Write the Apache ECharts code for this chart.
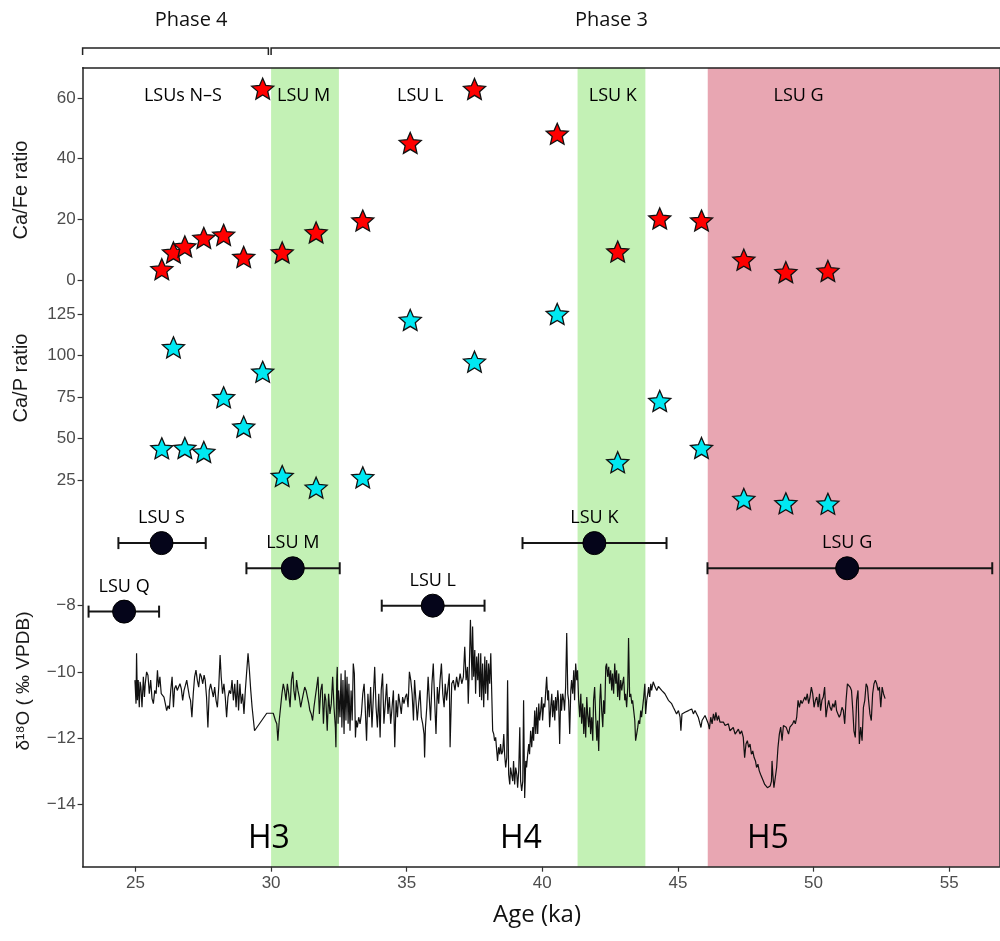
<!DOCTYPE html>
<html>
<head>
<meta charset="utf-8">
<script src="https://cdn.jsdelivr.net/npm/echarts@6/dist/echarts.min.js"></script>
<style>
  html, body { margin: 0; padding: 0; background: #fff; }
  #chart { width: 1000px; height: 941px; }
</style>
</head>
<body>
<div id="chart"></div>
<script>
// ---- Data -----------------------------------------------------------------
// Sample ages (ka) shared by the Ca/Fe and Ca/P measurements
const sampleAge = [25.97, 26.4, 26.82, 27.52, 28.25, 28.99, 29.69, 30.41, 31.66, 33.38,
                   35.13, 37.5, 40.55, 42.78, 44.33, 45.87, 47.43, 48.98, 50.53];
const caFe = [3.6, 9.1, 11.1, 13.9, 14.9, 7.6, 63.1, 9.1, 15.7, 19.6,
              45.2, 63.0, 48.2, 9.4, 20.3, 19.6, 6.7, 2.6, 3.0];
const caP = [44.1, 104.9, 44.3, 41.9, 74.8, 57.1, 90.2, 27.4, 20.4, 26.6,
             121.4, 96.3, 125.0, 35.7, 72.6, 44.3, 13.6, 11.0, 10.7];

// Dated lithostratigraphic units: central age, age range, plotting level
const lsuName = ['LSU Q', 'LSU S', 'LSU M', 'LSU L', 'LSU K', 'LSU G'];
const lsuAge = [24.58, 25.96, 30.8, 35.96, 41.92, 51.24];
const lsuAgeMin = [23.27, 24.37, 29.09, 34.08, 39.27, 46.09];
const lsuAgeMax = [25.87, 27.59, 32.53, 37.87, 44.58, 56.59];
const lsuLevel = [-8.18, -6.11, -6.87, -8.0, -6.11, -6.87];

// Unit names written across the top of the plot
const unitLabel = ['LSUs N\u2013S', 'LSU M', 'LSU L', 'LSU K', 'LSU G'];
const unitLabelAge = [26.75, 31.2, 35.5, 42.6, 49.45];

// Heinrich events
const heinrichName = ['H3', 'H4', 'H5'];
const heinrichAge = [29.92, 39.21, 48.32];

// Shaded intervals (group 0 = green, group 1 = red)
const bandFrom = [30.0, 41.3, 46.1];
const bandTo = [32.5, 43.8, 56.85];
const bandGroup = [0, 0, 1];

// Occupation phases
const phaseName = ['Phase 4', 'Phase 3'];
const phaseFrom = [23.05, 30.0];
const phaseTo = [29.9, 57.5];
const phaseLabelAge = [27.05, 42.55];

// Tick values
const xTicks = [25, 30, 35, 40, 45, 50, 55];
const caFeTicks = [0, 20, 40, 60];
const caPTicks = [25, 50, 75, 100, 125];
const d18oTicks = [-14, -12, -10, -8];

// Speleothem oxygen isotope record [age ka, δ18O ‰ VPDB]
const d18oRecord = [
  [24.98,-10.25],[25.02,-10.96],[25.04,-9.44],[25.07,-10.86],[25.10,-10.25],[25.14,-11.07],[25.17,-10.30],[25.20,-10.46],
  [25.24,-11.07],[25.29,-10.15],[25.33,-10.76],[25.36,-10.36],[25.41,-10.00],[25.46,-10.10],[25.51,-10.66],[25.56,-10.25],
  [25.61,-10.81],[25.66,-10.96],[25.71,-10.56],[25.76,-10.66],[25.81,-9.95],[25.85,-10.46],[25.90,-10.15],[25.95,-10.66],
  [26.00,-10.61],[26.05,-10.76],[26.10,-10.96],[26.15,-11.17],[26.20,-11.02],[26.25,-11.12],[26.30,-10.56],[26.35,-10.15],
  [26.40,-11.07],[26.44,-10.51],[26.49,-10.41],[26.54,-10.56],[26.59,-10.46],[26.64,-10.36],[26.69,-10.51],[26.74,-10.86],
  [26.79,-10.56],[26.84,-10.41],[26.89,-10.25],[26.94,-10.51],[26.99,-10.76],[27.03,-10.86],[27.08,-11.37],[27.13,-10.66],
  [27.18,-10.15],[27.23,-9.95],[27.28,-10.25],[27.33,-10.46],[27.38,-10.05],[27.43,-10.15],[27.48,-10.36],[27.53,-10.10],
  [27.57,-10.25],[27.62,-10.76],[27.67,-11.68],[27.72,-10.56],[27.77,-10.36],[27.82,-10.56],[27.87,-10.76],[27.92,-10.46],
  [27.97,-10.86],[28.02,-11.07],[28.07,-10.46],[28.12,-9.49],[28.16,-10.15],[28.21,-10.66],[28.26,-10.36],[28.31,-10.76],
  [28.36,-11.37],[28.41,-10.76],[28.46,-10.56],[28.51,-10.66],[28.56,-10.25],[28.61,-10.86],[28.66,-10.36],[28.71,-11.07],
  [28.76,-10.25],[28.80,-11.17],[28.85,-10.36],[28.90,-10.96],[28.95,-10.66],[29.00,-11.27],[29.05,-10.56],[29.10,-10.61],
  [29.15,-9.44],[29.20,-9.95],[29.25,-10.56],[29.30,-11.07],[29.35,-11.47],[29.39,-11.78],[29.84,-11.25],[30.08,-11.25],
  [30.16,-11.47],[30.21,-11.57],[30.25,-12.08],[30.30,-11.47],[30.35,-11.07],[30.40,-10.66],[30.45,-10.36],[30.50,-10.56],
  [30.55,-10.86],[30.60,-10.36],[30.65,-10.66],[30.70,-11.07],[30.75,-10.25],[30.80,-10.00],[30.84,-10.56],[30.89,-10.86],
  [30.94,-10.25],[30.99,-10.56],[31.04,-10.76],[31.09,-11.07],[31.14,-10.86],[31.19,-10.66],[31.24,-10.46],[31.29,-10.56],
  [31.34,-10.76],[31.39,-10.96],[31.43,-11.17],[31.48,-11.27],[31.53,-11.47],[31.58,-11.07],[31.63,-10.76],[31.68,-10.46],
  [31.73,-10.15],[31.78,-11.27],[31.83,-10.56],[31.88,-10.36],[31.93,-11.57],[31.98,-10.66],[32.02,-10.86],[32.07,-11.78],
  [32.12,-10.66],[32.17,-11.27],[32.22,-10.96],[32.27,-10.15],[32.32,-11.07],[32.37,-11.68],[32.39,-12.28],[32.42,-10.25],
  [32.44,-9.85],[32.47,-11.57],[32.49,-10.56],[32.54,-11.37],[32.58,-10.05],[32.61,-11.68],[32.65,-10.25],[32.69,-11.88],
  [32.73,-9.95],[32.76,-11.47],[32.80,-10.15],[32.84,-11.57],[32.87,-10.36],[32.91,-11.78],[32.95,-10.56],[32.99,-11.47],
  [33.03,-9.75],[33.07,-10.05],[33.11,-11.98],[33.14,-11.47],[33.18,-11.68],[33.23,-11.37],[33.28,-11.57],[33.33,-11.27],
  [33.38,-10.66],[33.43,-10.36],[33.47,-11.07],[33.52,-12.08],[33.57,-10.66],[33.62,-11.37],[33.67,-10.46],[33.72,-11.68],
  [33.77,-10.76],[33.82,-9.85],[33.87,-11.07],[33.92,-11.68],[33.97,-10.66],[34.02,-11.98],[34.06,-10.56],[34.11,-10.05],
  [34.16,-11.57],[34.21,-10.96],[34.26,-10.36],[34.31,-11.27],[34.36,-10.76],[34.41,-11.57],[34.46,-11.07],[34.51,-10.56],
  [34.56,-12.28],[34.61,-10.86],[34.66,-11.37],[34.70,-10.66],[34.75,-10.96],[34.80,-11.27],[34.85,-10.76],[34.90,-10.96],
  [34.95,-10.76],[35.00,-10.66],[35.05,-11.07],[35.10,-10.00],[35.15,-10.25],[35.20,-10.66],[35.25,-11.47],[35.29,-10.25],
  [35.34,-10.86],[35.39,-11.47],[35.44,-10.96],[35.49,-10.56],[35.54,-11.37],[35.59,-11.57],[35.64,-11.88],[35.66,-12.59],
  [35.69,-11.68],[35.74,-11.07],[35.79,-10.15],[35.83,-10.76],[35.88,-11.47],[35.93,-10.36],[35.98,-9.75],[36.03,-10.86],
  [36.08,-11.88],[36.13,-10.46],[36.18,-10.96],[36.23,-10.25],[36.28,-9.75],[36.33,-10.66],[36.38,-11.07],[36.42,-10.36],
  [36.47,-10.86],[36.52,-10.46],[36.57,-10.05],[36.60,-12.28],[36.66,-10.36],[36.72,-10.25],[36.78,-10.56],[36.84,-10.15],
  [36.90,-10.46],[36.97,-10.05],[37.03,-10.36],[37.09,-10.15],[37.14,-9.24],[37.19,-10.25],[37.24,-9.85],[37.27,-10.96],
  [37.31,-9.85],[37.35,-8.43],[37.37,-8.38],[37.41,-10.25],[37.43,-8.63],[37.47,-10.15],[37.51,-9.34],[37.54,-10.66],
  [37.58,-9.54],[37.62,-10.25],[37.65,-9.44],[37.69,-10.76],[37.73,-9.44],[37.76,-10.86],[37.80,-9.75],[37.84,-11.07],
  [37.88,-9.54],[37.91,-10.66],[37.95,-9.64],[37.99,-10.86],[38.02,-9.75],[38.06,-10.36],[38.10,-9.44],[38.13,-10.46],
  [38.17,-11.78],[38.21,-11.88],[38.24,-12.08],[38.28,-11.98],[38.32,-12.39],[38.35,-12.69],[38.39,-12.28],[38.43,-12.49],
  [38.46,-12.18],[38.50,-12.49],[38.54,-12.39],[38.58,-11.88],[38.61,-12.49],[38.65,-12.89],[38.69,-12.59],[38.72,-10.25],
  [38.76,-13.10],[38.80,-13.40],[38.83,-12.89],[38.87,-13.10],[38.91,-13.30],[38.94,-12.69],[38.98,-13.40],[39.02,-12.89],
  [39.06,-13.10],[39.09,-13.50],[39.13,-12.99],[39.17,-11.67],[39.20,-13.30],[39.24,-13.60],[39.28,-13.30],[39.31,-10.86],
  [39.35,-13.81],[39.39,-12.69],[39.42,-12.89],[39.46,-12.49],[39.50,-12.18],[39.53,-12.49],[39.57,-11.78],[39.61,-12.28],
  [39.65,-11.67],[39.68,-12.08],[39.72,-11.17],[39.76,-11.88],[39.79,-11.07],[39.83,-11.88],[39.87,-10.96],[39.90,-11.47],
  [39.94,-11.17],[39.98,-10.76],[40.01,-11.47],[40.05,-10.96],[40.09,-11.07],[40.12,-10.66],[40.16,-10.15],[40.20,-10.86],
  [40.23,-10.56],[40.27,-11.67],[40.31,-11.07],[40.35,-10.66],[40.38,-11.37],[40.42,-10.86],[40.46,-11.47],[40.49,-10.76],
  [40.53,-11.17],[40.57,-10.56],[40.60,-10.86],[40.64,-12.18],[40.68,-10.66],[40.71,-11.17],[40.75,-10.66],[40.79,-10.86],
  [40.82,-11.17],[40.86,-10.46],[40.90,-8.83],[40.94,-10.66],[40.97,-10.86],[41.01,-11.88],[41.05,-10.56],[41.08,-10.25],
  [41.12,-10.66],[41.16,-9.95],[41.19,-10.86],[41.23,-9.75],[41.27,-10.25],[41.30,-9.95],[41.34,-10.86],[41.38,-11.37],
  [41.42,-10.66],[41.45,-11.57],[41.49,-10.96],[41.53,-11.88],[41.56,-11.07],[41.60,-11.98],[41.64,-10.76],[41.67,-11.27],
  [41.71,-11.67],[41.75,-11.07],[41.78,-11.88],[41.82,-11.37],[41.86,-12.08],[41.89,-10.86],[41.93,-10.46],[41.97,-11.37],
  [42.01,-12.08],[42.04,-11.47],[42.08,-12.39],[42.12,-10.86],[42.15,-10.36],[42.19,-11.17],[42.23,-11.67],[42.26,-10.86],
  [42.30,-11.27],[42.34,-9.85],[42.37,-9.75],[42.41,-10.15],[42.45,-9.85],[42.48,-10.36],[42.52,-9.95],[42.56,-10.56],
  [42.59,-10.05],[42.63,-10.66],[42.67,-9.75],[42.71,-10.36],[42.74,-9.95],[42.78,-10.76],[42.82,-10.05],[42.85,-10.86],
  [42.89,-10.25],[42.93,-10.56],[42.96,-10.36],[43.00,-10.15],[43.04,-10.86],[43.07,-10.66],[43.11,-11.07],[43.15,-10.46],
  [43.18,-8.98],[43.22,-10.76],[43.26,-10.66],[43.30,-10.96],[43.33,-10.86],[43.37,-11.17],[43.41,-11.47],[43.44,-12.08],
  [43.48,-11.88],[43.52,-11.67],[43.55,-11.47],[43.59,-11.57],[43.63,-11.17],[43.66,-11.37],[43.70,-11.07],[43.74,-10.76],
  [43.78,-10.36],[43.81,-11.27],[43.85,-10.86],[43.89,-10.66],[43.92,-10.46],[43.96,-10.76],[44.00,-10.36],[44.03,-10.56],
  [44.09,-10.30],[44.16,-10.46],[44.22,-10.56],[44.28,-10.44],[44.34,-10.41],[44.40,-10.56],[44.46,-10.51],[44.52,-10.66],
  [44.59,-10.71],[44.65,-10.86],[44.71,-10.81],[44.77,-10.96],[44.83,-11.07],[44.89,-11.17],[44.95,-11.27],[45.02,-11.17],
  [45.08,-11.37],[45.11,-11.78],[45.15,-11.27],[45.20,-11.32],[45.26,-11.22],[45.32,-11.27],[45.39,-11.17],[45.45,-11.22],
  [45.51,-11.12],[45.57,-11.27],[45.63,-11.17],[45.69,-11.22],[45.75,-11.37],[45.81,-11.32],[45.85,-11.68],[45.89,-11.47],
  [45.94,-11.52],[46.00,-11.32],[46.06,-11.27],[46.12,-11.57],[46.16,-11.73],[46.21,-11.37],[46.26,-11.57],[46.31,-11.27],
  [46.36,-11.47],[46.40,-11.22],[46.45,-11.47],[46.50,-11.32],[46.55,-11.52],[46.61,-11.47],[46.68,-11.52],[46.74,-11.62],
  [46.80,-11.68],[46.86,-11.57],[46.92,-11.78],[46.98,-11.73],[47.04,-11.68],[47.11,-11.88],[47.17,-11.83],[47.23,-11.73],
  [47.29,-11.88],[47.35,-11.78],[47.41,-11.98],[47.46,-12.59],[47.51,-12.18],[47.56,-12.08],[47.61,-12.28],[47.66,-12.18],
  [47.71,-12.49],[47.76,-12.39],[47.81,-12.59],[47.86,-12.69],[47.90,-12.89],[47.95,-12.79],[48.00,-12.99],[48.05,-13.10],
  [48.10,-13.20],[48.15,-13.30],[48.20,-13.40],[48.25,-13.45],[48.30,-13.50],[48.35,-13.50],[48.40,-13.45],[48.45,-13.30],
  [48.47,-12.69],[48.50,-13.10],[48.54,-13.50],[48.59,-13.45],[48.64,-12.89],[48.69,-12.28],[48.74,-11.88],[48.79,-11.67],
  [48.84,-12.08],[48.89,-11.62],[48.94,-11.57],[48.99,-11.67],[49.04,-11.62],[49.08,-11.88],[49.13,-11.67],[49.18,-11.73],
  [49.23,-11.57],[49.28,-11.47],[49.33,-11.57],[49.38,-11.37],[49.43,-10.86],[49.48,-11.07],[49.53,-10.86],[49.58,-10.96],
  [49.63,-10.91],[49.68,-10.76],[49.72,-10.86],[49.77,-10.66],[49.82,-10.96],[49.87,-10.76],[49.92,-10.46],[49.97,-10.66],
  [50.02,-11.07],[50.07,-10.86],[50.12,-10.76],[50.17,-11.07],[50.22,-10.66],[50.26,-11.17],[50.31,-10.86],[50.36,-10.76],
  [50.41,-10.46],[50.46,-11.37],[50.51,-11.07],[50.56,-10.86],[50.61,-11.07],[50.66,-11.17],[50.71,-10.96],[50.76,-11.07],
  [50.81,-10.86],[50.85,-11.17],[50.90,-11.27],[50.95,-11.37],[51.00,-11.27],[51.05,-11.07],[51.10,-11.17],[51.15,-11.57],
  [51.20,-10.86],[51.25,-10.36],[51.30,-10.30],[51.35,-10.46],[51.40,-10.56],[51.45,-11.17],[51.49,-11.78],[51.54,-11.98],
  [51.59,-10.86],[51.64,-10.56],[51.69,-12.18],[51.74,-11.67],[51.79,-12.08],[51.84,-11.07],[51.89,-10.86],[51.94,-10.36],
  [51.99,-10.46],[52.03,-10.86],[52.08,-11.27],[52.13,-11.47],[52.18,-10.66],[52.23,-10.36],[52.28,-10.25],[52.33,-10.36],
  [52.38,-10.56],[52.43,-10.46],[52.48,-11.07],[52.53,-10.46],[52.58,-10.66],[52.64,-10.81]
];

// ---- Styling --------------------------------------------------------------
const X_MIN = 23.05, X_MAX = 56.85;
const LABEL_FONT = "'Open Sans', 'Noto Sans', sans-serif";
const AXIS_FONT = "'Liberation Sans', Arial, sans-serif";
const NARROW_FONT = "'Liberation Sans Narrow', 'Liberation Sans', Arial, sans-serif";
const BAND_COLORS = ['#c3f1b5', '#e8a6b2'];
const TICK_COLOR = '#333333';
const TICK_LABEL_COLOR = '#4d4d4d';
const FRAME = { color: '#222222', width: 1.5 };

// Five-pointed star used for the geochemistry markers
function starPath(inner) {
  const pts = [];
  for (let i = 0; i < 10; i++) {
    const r = i % 2 ? inner : 1;
    const a = -Math.PI / 2 + i * Math.PI / 5;
    pts.push((50 + 50 * r * Math.cos(a)).toFixed(2) + ' ' + (50 + 50 * r * Math.sin(a)).toFixed(2));
  }
  return 'path://M' + pts.join(' L') + ' Z';
}
const STAR = starPath(0.46);

const minusSign = v => String(v).replace('-', '\u2212');

// Panel geometry (pixels): one frame, three stacked value scales
const PLOT_LEFT = 82.6, PLOT_WIDTH = 916.7;
const grids = [
  { left: PLOT_LEFT, width: PLOT_WIDTH, top: 67.7, height: 799 },   // frame + shading
  { left: PLOT_LEFT, width: PLOT_WIDTH, top: 67.7, height: 227.5 }, // Ca/Fe
  { left: PLOT_LEFT, width: PLOT_WIDTH, top: 295.7, height: 217.5 },// Ca/P
  { left: PLOT_LEFT, width: PLOT_WIDTH, top: 489.8, height: 376.7 },// δ18O + ages
  { left: PLOT_LEFT, width: PLOT_WIDTH, top: 48, height: 7 }        // phase brackets
];

function hiddenX(gridIndex) {
  return { type: 'value', gridIndex, min: X_MIN, max: X_MAX, show: false };
}
function panelY(gridIndex, min, max, ticks, formatter) {
  return {
    type: 'value', gridIndex, min, max,
    axisLine: { show: false },
    splitLine: { show: false },
    axisTick: { show: true, customValues: ticks, length: 5, lineStyle: { color: TICK_COLOR, width: 1.2 } },
    axisLabel: {
      show: true, customValues: ticks, color: TICK_LABEL_COLOR, fontSize: 17,
      fontFamily: AXIS_FONT, margin: 7, formatter: formatter || (v => String(v))
    }
  };
}

const SOLID = { opacity: 1 };

const option = {
  animation: false,
  backgroundColor: '#ffffff',
  grid: grids,
  xAxis: [
    {
      type: 'value', gridIndex: 0, min: X_MIN, max: X_MAX, position: 'bottom', z: 10,
      axisLine: { show: true, onZero: false, lineStyle: FRAME },
      axisTick: { show: true, customValues: xTicks, length: 5, lineStyle: { color: TICK_COLOR, width: 1.2 } },
      axisLabel: { show: true, customValues: xTicks, color: TICK_LABEL_COLOR, fontSize: 17, fontFamily: NARROW_FONT, margin: 8 },
      splitLine: { show: false }
    },
    {
      type: 'value', gridIndex: 0, min: X_MIN, max: X_MAX, position: 'top', z: 10,
      axisLine: { show: true, onZero: false, lineStyle: FRAME },
      axisTick: { show: false }, axisLabel: { show: false }, splitLine: { show: false }
    },
    hiddenX(1), hiddenX(2), hiddenX(3), hiddenX(4)
  ],
  yAxis: [
    {
      type: 'value', gridIndex: 0, min: 0, max: 1, position: 'left', z: 10,
      axisLine: { show: true, onZero: false, lineStyle: FRAME },
      axisTick: { show: false }, axisLabel: { show: false }, splitLine: { show: false }
    },
    {
      type: 'value', gridIndex: 0, min: 0, max: 1, position: 'right', z: 10,
      axisLine: { show: true, onZero: false, lineStyle: FRAME },
      axisTick: { show: false }, axisLabel: { show: false }, splitLine: { show: false }
    },
    panelY(1, -5, 70, caFeTicks),
    panelY(2, 5, 136, caPTicks),
    panelY(3, -15.88, -4.5, d18oTicks, minusSign),
    { type: 'value', gridIndex: 4, min: 0, max: 1, show: false }
  ],
  graphic: [
    {
      type: 'text', x: 21, y: 190, rotation: Math.PI / 2,
      style: { text: 'Ca/Fe ratio', fill: '#1a1a1a', font: '20px ' + AXIS_FONT, align: 'center', verticalAlign: 'middle' }
    },
    {
      type: 'text', x: 21, y: 378, rotation: Math.PI / 2,
      style: { text: 'Ca/P ratio', fill: '#1a1a1a', font: '20px ' + AXIS_FONT, align: 'center', verticalAlign: 'middle' }
    },
    {
      type: 'text', x: 24, y: 681, rotation: Math.PI / 2,
      style: { text: '\u03b4\u00b9\u2078O ( \u2030 VPDB)', fill: '#1a1a1a', font: '19px ' + AXIS_FONT, align: 'center', verticalAlign: 'middle' }
    },
    {
      type: 'text', x: 537, y: 915,
      style: { text: 'Age (ka)', fill: '#111', font: '24px ' + LABEL_FONT, align: 'center', verticalAlign: 'middle' }
    }
  ],
  series: [
    // Shaded intervals
    {
      type: 'custom', xAxisIndex: 0, yAxisIndex: 0, z: 1, silent: true,
      data: bandFrom.map((f, i) => [f, bandTo[i], bandGroup[i]]),
      encode: { x: [0, 1] },
      renderItem(params, api) {
        const p1 = api.coord([api.value(0), 1]);
        const p2 = api.coord([api.value(1), 0]);
        const cs = params.coordSys;
        const shape = echarts.graphic.clipRectByRect(
          { x: p1[0], y: p1[1], width: p2[0] - p1[0], height: p2[1] - p1[1] },
          { x: cs.x, y: cs.y, width: cs.width, height: cs.height }
        );
        return shape && { type: 'rect', shape, style: { fill: BAND_COLORS[api.value(2)] } };
      }
    },
    // Phase brackets above the frame
    {
      type: 'custom', xAxisIndex: 5, yAxisIndex: 5, silent: true,
      data: phaseFrom.map((f, i) => [f, phaseTo[i], phaseLabelAge[i]]),
      encode: { x: [0, 1, 2] },
      renderItem(params, api) {
        const x1 = api.coord([api.value(0), 0])[0];
        const x2 = api.coord([api.value(1), 0])[0];
        const xl = api.coord([api.value(2), 0])[0];
        const top = params.coordSys.y;
        const bottom = top + params.coordSys.height;
        return {
          type: 'group',
          children: [
            {
              type: 'polyline',
              shape: { points: [[x1, bottom], [x1, top], [x2, top], [x2, bottom]] },
              style: { stroke: '#222', lineWidth: 1.5, fill: null }
            },
            {
              type: 'text',
              style: {
                text: phaseName[params.dataIndex], x: xl, y: top - 28,
                align: 'center', verticalAlign: 'middle', fill: '#111',
                font: '20px ' + LABEL_FONT
              }
            }
          ]
        };
      }
    },
    // δ18O record
    {
      type: 'line', xAxisIndex: 4, yAxisIndex: 4, z: 3,
      data: d18oRecord, showSymbol: false, symbol: 'none', silent: true,
      lineStyle: { color: '#111111', width: 1.2, opacity: 1 }
    },
    // Ca/Fe ratio
    {
      type: 'scatter', xAxisIndex: 2, yAxisIndex: 2, z: 5, clip: false,
      data: sampleAge.map((a, i) => [a, caFe[i]]),
      symbol: STAR, symbolSize: 22, symbolKeepAspect: true,
      itemStyle: { color: '#ff0000', borderColor: '#111', borderWidth: 1.3, opacity: 1 },
      emphasis: { disabled: true }
    },
    // Ca/P ratio
    {
      type: 'scatter', xAxisIndex: 3, yAxisIndex: 3, z: 5, clip: false,
      data: sampleAge.map((a, i) => [a, caP[i]]),
      symbol: STAR, symbolSize: 22, symbolKeepAspect: true,
      itemStyle: { color: '#00e8f2', borderColor: '#111', borderWidth: 1.3, opacity: 1 },
      emphasis: { disabled: true }
    },
    // Age uncertainty of the dated units
    {
      type: 'custom', xAxisIndex: 4, yAxisIndex: 4, z: 6, silent: true,
      data: lsuAgeMin.map((m, i) => [m, lsuAgeMax[i], lsuLevel[i]]),
      encode: { x: [0, 1], y: 2 },
      renderItem(params, api) {
        const a = api.coord([api.value(0), api.value(2)]);
        const b = api.coord([api.value(1), api.value(2)]);
        const h = 6;
        const st = { stroke: '#151515', lineWidth: 2 };
        return {
          type: 'group',
          children: [
            { type: 'line', shape: { x1: a[0], y1: a[1], x2: b[0], y2: b[1] }, style: st },
            { type: 'line', shape: { x1: a[0], y1: a[1] - h, x2: a[0], y2: a[1] + h }, style: st },
            { type: 'line', shape: { x1: b[0], y1: b[1] - h, x2: b[0], y2: b[1] + h }, style: st }
          ]
        };
      }
    },
    // Central ages of the dated units
    {
      type: 'scatter', xAxisIndex: 4, yAxisIndex: 4, z: 7, clip: false,
      data: lsuAge.map((a, i) => ({ value: [a, lsuLevel[i]], name: lsuName[i] })),
      symbol: 'circle', symbolSize: 23,
      itemStyle: { color: '#05051a', borderColor: '#000', borderWidth: 1, opacity: 1 },
      emphasis: { disabled: true },
      label: {
        show: true, position: 'top', distance: 4, formatter: p => p.name,
        color: '#000', fontSize: 18, fontFamily: LABEL_FONT
      }
    },
    // Unit names across the top
    {
      type: 'scatter', xAxisIndex: 2, yAxisIndex: 2, z: 8, clip: false, silent: true,
      data: unitLabelAge.map((a, i) => ({ value: [a, 60.6], name: unitLabel[i] })),
      symbolSize: 0, itemStyle: SOLID,
      label: {
        show: true, position: 'inside', formatter: p => p.name,
        color: '#000', fontSize: 18, fontFamily: LABEL_FONT
      }
    },
    // Heinrich event labels
    {
      type: 'scatter', xAxisIndex: 4, yAxisIndex: 4, z: 8, clip: false, silent: true,
      data: heinrichAge.map((a, i) => ({ value: [a, -15.05], name: heinrichName[i] })),
      symbolSize: 0, itemStyle: SOLID,
      label: {
        show: true, position: 'inside', formatter: p => p.name,
        color: '#000', fontSize: 32, fontFamily: LABEL_FONT
      }
    }
  ]
};

const chart = echarts.init(document.getElementById('chart'), null, { renderer: 'canvas' });
chart.setOption(option);
</script>
</body>
</html>
